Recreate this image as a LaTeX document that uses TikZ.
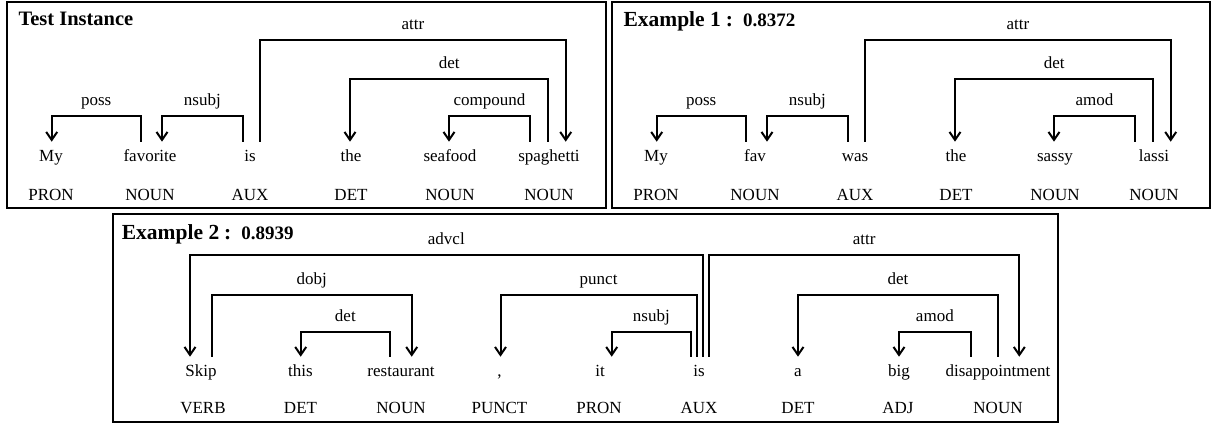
\documentclass[tikz,border=0pt]{standalone}
\usepackage{fontspec}
\setmainfont{Liberation Serif}
\usetikzlibrary{arrows.meta}

% Draw a dependency arc: #1 head word, #2 x offset at head, #3 dependent word,
% #4 x offset at dependent, #5 height of the bar (y, downward), #6 relation label
\newcommand\deparc[6]{%
  \path ([xshift=#2pt,yshift=20pt]#1.base) coordinate (hd)
        ([xshift=#4pt,yshift=20pt]#3.base) coordinate (dp)
        (0,#5) coordinate (lv);
  \draw[arc] (hd) -- (hd |- lv) -- node[rel,midway]{#6} (dp |- lv) -- (dp);
}
% score shown after the example title
\newcommand\score[1]{\hspace{5pt}:\hspace{10pt}{\fontsize{19}{22}\selectfont #1}}

\begin{document}
\begin{tikzpicture}[x=1pt,y=-1pt,
  frame/.style={draw=black, line width=2.2pt},
  word/.style={anchor=base, inner sep=0pt, font=\fontsize{17}{20}\selectfont},
  tag/.style={anchor=base, inner sep=0pt, font=\fontsize{17}{20}\selectfont},
  title/.style={anchor=base west, inner sep=0pt, font=\fontsize{20.5}{24}\selectfont\bfseries},
  extitle/.style={title, font=\fontsize{21.5}{24}\selectfont\bfseries},
  arc/.style={line width=2pt, -{Straight Barb[length=8pt,width=11pt,line width=2pt]}},
  rel/.style={anchor=base, inner sep=0pt, yshift=10.5pt, font=\fontsize{17}{20}\selectfont},
]
\useasboundingbox (0,0) rectangle (1214,425);

% ---------- panel frames ----------
\draw[frame] (7,2) rectangle (606,208);
\draw[frame] (612,2) rectangle (1210,208);
\draw[frame] (113,214) rectangle (1058,422);

% ---------- Test Instance ----------
\node[title] (ta) at (18.3,26) {Test Instance};
\node[word] (a1) at (51,161.7) {My};
\node[word] (a2) at (150,161.7) {favorite};
\node[word] (a3) at (250,161.7) {is};
\node[word] (a4) at (351,161.7) {the};
\node[word] (a5) at (450,161.7) {seafood};
\node[word] (a6) at (549,161.7) {spaghetti};
\node[tag] (ap1) at (51,200) {PRON};
\node[tag] (ap2) at (150,200) {NOUN};
\node[tag] (ap3) at (250,200) {AUX};
\node[tag] (ap4) at (351,200) {DET};
\node[tag] (ap5) at (450,200) {NOUN};
\node[tag] (ap6) at (549,200) {NOUN};
\deparc{a2}{-9.3}{a1}{0.7}{116}{poss}
\deparc{a3}{-7.3}{a2}{12}{116}{nsubj}
\deparc{a3}{10}{a6}{16.7}{40}{attr}
\deparc{a6}{-0.7}{a4}{-1}{79}{det}
\deparc{a6}{-19}{a5}{-1}{116}{compound}

% ---------- Example 1 ----------
\node[extitle] (tb) at (623.3,26.5) {Example 1\score{0.8372}};
\node[word] (b1) at (656,161.7) {My};
\node[word] (b2) at (755,161.7) {fav};
\node[word] (b3) at (855,161.7) {was};
\node[word] (b4) at (956,161.7) {the};
\node[word] (b5) at (1055,161.7) {sassy};
\node[word] (b6) at (1154,161.7) {lassi};
\node[tag] (bp1) at (656,200) {PRON};
\node[tag] (bp2) at (755,200) {NOUN};
\node[tag] (bp3) at (855,200) {AUX};
\node[tag] (bp4) at (956,200) {DET};
\node[tag] (bp5) at (1055,200) {NOUN};
\node[tag] (bp6) at (1154,200) {NOUN};
\deparc{b2}{-9.3}{b1}{0.7}{116}{poss}
\deparc{b3}{-7.3}{b2}{12}{116}{nsubj}
\deparc{b3}{10}{b6}{16.7}{40}{attr}
\deparc{b6}{-0.7}{b4}{-1}{79}{det}
\deparc{b6}{-19}{b5}{-1}{116}{amod}

% ---------- Example 2 ----------
\node[extitle] (tc) at (121.7,239.3) {Example 2\score{0.8939}};
\node[word] (c1) at (201,376.7) {Skip};
\node[word] (c2) at (300.5,376.7) {this};
\node[word] (c3) at (401,376.7) {restaurant};
\node[word] (c4) at (499.5,376.7) {,};
\node[word] (c5) at (600,376.7) {it};
\node[word] (c6) at (699,376.7) {is};
\node[word] (c7) at (798,376.7) {a};
\node[word] (c8) at (899,376.7) {big};
\node[word] (c9) at (998,376.7) {disappointment};
\node[tag] (cp1) at (203,413.3) {VERB};
\node[tag] (cp2) at (300.5,413.3) {DET};
\node[tag] (cp3) at (401,413.3) {NOUN};
\node[tag] (cp4) at (499.5,413.3) {PUNCT};
\node[tag] (cp5) at (599,413.3) {PRON};
\node[tag] (cp6) at (699,413.3) {AUX};
\node[tag] (cp7) at (798,413.3) {DET};
\node[tag] (cp8) at (898,413.3) {ADJ};
\node[tag] (cp9) at (998,413.3) {NOUN};
\deparc{c6}{3.7}{c1}{-11}{255}{advcl}
\deparc{c1}{10.7}{c3}{10.7}{294.5}{dobj}
\deparc{c3}{-11}{c2}{0.2}{331.5}{det}
\deparc{c6}{-2.3}{c4}{1}{295}{punct}
\deparc{c6}{-8}{c5}{11.7}{331.5}{nsubj}
\deparc{c6}{10}{c9}{21.3}{255}{attr}
\deparc{c9}{0}{c7}{0}{294.5}{det}
\deparc{c9}{-27.3}{c8}{0}{331.5}{amod}
\end{tikzpicture}
\end{document}
